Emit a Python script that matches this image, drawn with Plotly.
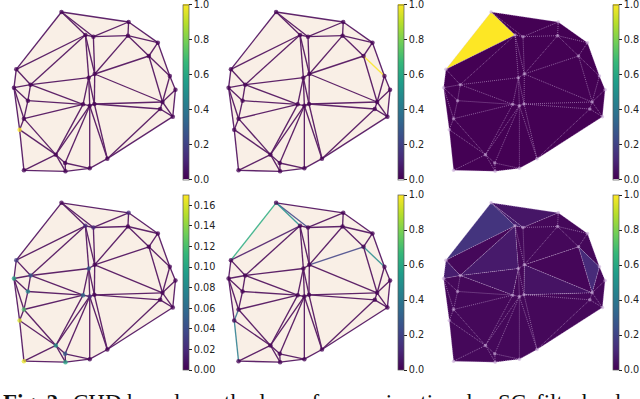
import plotly.graph_objects as go
from plotly.colors import sample_colorscale

# --- mesh (reading units: 3 per pixel) ---
vertex_names = list("ABCDEFGHIJKLMNOPQRSTUVWXYZabc")
vertex_x = [185, 387, 257, 281, 385, 475, 448, 511, 528, 49, 42, 92, 267, 285, 84, 72, 59, 250, 270, 284, 489, 482, 520, 168, 196, 72, 197, 270, 323]
vertex_y = [36, 66, 105, 110, 107, 128, 168, 228, 269, 208, 263, 254, 233, 222, 302, 356, 389, 313, 317, 312, 306, 327, 350, 464, 489, 511, 514, 505, 476]
faces = ["AJC", "ACD", "ADB", "BDE", "BEF", "DEN", "EFG", "EGN", "FGH", "GHU", "GNU", "HIU", "IUW", "UVW",
         "NTU", "TUV", "CDN", "CMN", "MNT", "MST", "MRS", "CJL", "CLM", "JKL", "KLO", "LOR", "LMR", "ORP",
         "KOP", "KPQ", "QPX", "QXZ", "PRX", "RSX", "XSY", "XYa", "XaZ", "Yab", "YSb", "Sbc", "STc", "TcV", "cVW"]

# --- values per panel ---
p1_nodes = {"Q": 1.0}
p2_edges = {"GH": 1.0}
p3_faces = {"AJC": 1.0}
p4_nodes = {"Q": 0.16, "Z": 0.165, "K": 0.10, "O": 0.08, "P": 0.12, "X": 0.09, "a": 0.10, "L": 0.05, "R": 0.06,
            "J": 0.03, "M": 0.05, "Y": 0.05, "S": 0.02, "B": 0.02, "D": 0.02, "C": 0.02}
p5_edges = {"AJ": 0.62, "AC": 0.5, "AD": 0.22, "GH": 0.48, "GN": 0.2, "QZ": 0.42, "PQ": 0.36, "CJ": 0.05}
p6_faces = {"AJC": 0.15, "ACD": 0.08, "ADB": 0.06, "CLM": 0.07, "JKL": 0.08, "LMR": 0.04, "NTU": 0.05, "GHU": 0.12, "GNU": 0.015}
p6_base = 0.02

cb_ticks_unit = [0, 0.2, 0.4, 0.6, 0.8, 1.0]
cb_ticks_p4 = [0, 0.02, 0.04, 0.06, 0.08, 0.1, 0.12, 0.14, 0.16]
p4_max = 0.17
caption_words = ["<b>Fig. 2:</b>", "CHD based", "method", "of", "approximation", "by", "SC", "filter", "banks"]
caption_left = [2, 72, 196, 300, 322, 467, 499, 537, 583]

PALE = "#f9efe6"
W, H = 640, 399
PANEL = 180
x_off = [0, 215.3, 431]
y_off = [0, 190.8]
cb_x = [184, 399.3, 615]
cb_y = [4.5, 195]
CB_LEN = 174.5

pos = {n: (x, y) for n, x, y in zip(vertex_names, vertex_x, vertex_y)}
edges = sorted({"".join(sorted(e)) for f in faces for e in (f[0] + f[1], f[1] + f[2], f[0] + f[2])})


def col(v, vmax=1.0):
    return sample_colorscale("Viridis", [min(v / vmax, 1.0)])[0]


def key(d, e):
    return d.get(e, d.get(e[::-1], 0.0))


fig = go.Figure()
layout = dict(width=W, height=H, margin=dict(l=0, r=0, t=0, b=0), paper_bgcolor="white", plot_bgcolor="rgba(0,0,0,0)",
              showlegend=False)


def add_axes(i, r, c):
    sx = "" if i == 1 else str(i)
    layout[f"xaxis{sx}"] = dict(domain=[x_off[c] / W, (x_off[c] + PANEL) / W], range=[0, 540], visible=False, anchor=f"y{sx}")
    layout[f"yaxis{sx}"] = dict(domain=[1 - (y_off[r] + PANEL) / H, 1 - y_off[r] / H], range=[540, 0], visible=False, anchor=f"x{sx}")
    return f"x{sx}", f"y{sx}"


def colorbar(r, c, ticks, fmt):
    return dict(thickness=6, lenmode="pixels", len=CB_LEN, x=cb_x[c] / W, xanchor="left", xpad=0,
                y=1 - cb_y[r] / H, yanchor="top", ypad=0, tickvals=ticks, tickformat=fmt, ticks="outside", ticklen=3,
                tickwidth=0.8, tickcolor="#222", outlinewidth=0.7, outlinecolor="#555", ticklabeloverflow="allow",
                tickfont=dict(family="DejaVu Sans", size=9.7, color="#222"))


def polys(names):
    xs, ys = [], []
    for f in names:
        for n in f + f[0]:
            xs.append(pos[n][0]); ys.append(pos[n][1])
        xs.append(None); ys.append(None)
    return xs, ys


def wire_panel(i, r, c, node_vals, edge_vals, vmax, ticks, fmt):
    xa, ya = add_axes(i, r, c)
    xs, ys = polys(faces)
    fig.add_trace(go.Scatter(x=xs, y=ys, mode="lines", fill="toself", fillcolor=PALE, line=dict(width=0), xaxis=xa, yaxis=ya))
    groups = {}
    for e in edges:
        groups.setdefault(key(edge_vals, e), []).append(e)
    for v in sorted(groups):
        ex, ey = [], []
        for e in groups[v]:
            ex += [pos[e[0]][0], pos[e[1]][0], None]
            ey += [pos[e[0]][1], pos[e[1]][1], None]
        fig.add_trace(go.Scatter(x=ex, y=ey, mode="lines", line=dict(width=1.35, color=col(v, vmax)), opacity=0.85, xaxis=xa, yaxis=ya))
    fig.add_trace(go.Scatter(x=vertex_x, y=vertex_y, mode="markers", xaxis=xa, yaxis=ya,
                             marker=dict(size=4.5, opacity=0.75, color=[node_vals.get(n, 0.0) for n in vertex_names],
                                         colorscale="Viridis", cmin=0, cmax=vmax, showscale=True,
                                         colorbar=colorbar(r, c, ticks, fmt))))


def face_panel(i, r, c, face_vals, base):
    xa, ya = add_axes(i, r, c)
    groups = {}
    for f in faces:
        groups.setdefault(face_vals.get(f, base), []).append(f)
    for v, fl in groups.items():
        xs, ys = polys(fl)
        fig.add_trace(go.Scatter(x=xs, y=ys, mode="lines", fill="toself", fillcolor=col(v), line=dict(width=0), xaxis=xa, yaxis=ya))
    ex, ey = [], []
    for e in edges:
        ex += [pos[e[0]][0], pos[e[1]][0], None]
        ey += [pos[e[0]][1], pos[e[1]][1], None]
    fig.add_trace(go.Scatter(x=ex, y=ey, mode="lines", line=dict(width=1, color="rgba(215,190,230,0.5)", dash="1px,1px"), xaxis=xa, yaxis=ya))
    fig.add_trace(go.Scatter(x=vertex_x, y=vertex_y, mode="markers", xaxis=xa, yaxis=ya,
                             marker=dict(size=3.5, color="rgba(200,170,215,0.6)")))
    fig.add_trace(go.Scatter(x=vertex_x, y=vertex_y, mode="markers", xaxis=xa, yaxis=ya,
                             marker=dict(size=1, opacity=0, color=[0.0] * len(vertex_x), colorscale="Viridis", cmin=0, cmax=1,
                                         showscale=True, colorbar=colorbar(r, c, cb_ticks_unit, ".1f"))))


wire_panel(1, 0, 0, p1_nodes, {}, 1.0, cb_ticks_unit, ".1f")
wire_panel(2, 0, 1, {}, p2_edges, 1.0, cb_ticks_unit, ".1f")
face_panel(3, 0, 2, p3_faces, 0.0)
wire_panel(4, 1, 0, p4_nodes, {}, p4_max, cb_ticks_p4, ".2f")
wire_panel(5, 1, 1, {}, p5_edges, 1.0, cb_ticks_unit, ".1f")
face_panel(6, 1, 2, p6_faces, p6_base)

layout["annotations"] = [
    dict(text=w, x=l / W, xref="paper", xanchor="left", y=1 - 388 / H, yref="paper", yanchor="top", showarrow=False,
         xshift=-1, font=dict(family="Liberation Serif", size=23, color="#111"))
    for w, l in zip(caption_words, caption_left)
]
fig.update_layout(**layout)
fig.write_html("out.html", config=dict(displayModeBar=False),
               post_script="document.body.style.margin='0';document.body.style.overflow='hidden';")
